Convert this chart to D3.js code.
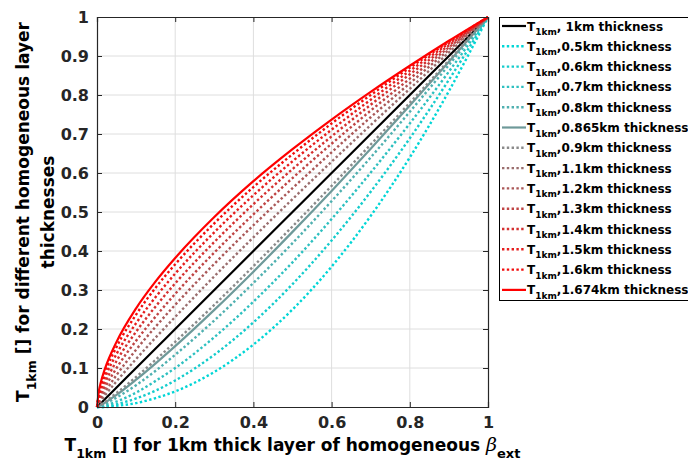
<!DOCTYPE html>
<html><head><meta charset="utf-8">
<script src="https://cdn.jsdelivr.net/npm/d3@7"></script>
<style>html,body{margin:0;padding:0;background:#fff;}svg{display:block;font-family:"DejaVu Sans",Verdana,sans-serif;font-weight:bold;}</style>
</head><body>
<svg id="c" width="688" height="461"></svg>
<script>
// x positions (T_1km for 1 km layer) at which curves were read
const xValues = [0, 0.005, 0.01, 0.02, 0.05, 0.1, 0.15, 0.2, 0.3, 0.4, 0.5, 0.6, 0.7, 0.8, 0.9, 1];
// series values (T for each layer thickness)
const y_1km    = [0, 0.005, 0.01, 0.02, 0.05, 0.1, 0.15, 0.2, 0.3, 0.4, 0.5, 0.6, 0.7, 0.8, 0.9, 1];
const y_0p5km  = [0, 0.000, 0.000, 0.000, 0.003, 0.010, 0.023, 0.040, 0.090, 0.160, 0.250, 0.360, 0.490, 0.640, 0.810, 1];
const y_0p6km  = [0, 0.000, 0.000, 0.001, 0.007, 0.022, 0.042, 0.068, 0.134, 0.217, 0.315, 0.427, 0.552, 0.689, 0.839, 1];
const y_0p7km  = [0, 0.001, 0.001, 0.004, 0.014, 0.037, 0.067, 0.100, 0.179, 0.270, 0.371, 0.482, 0.601, 0.727, 0.860, 1];
const y_0p8km  = [0, 0.001, 0.003, 0.008, 0.024, 0.056, 0.093, 0.134, 0.222, 0.318, 0.420, 0.528, 0.640, 0.757, 0.877, 1];
const y_0p865km= [0, 0.002, 0.005, 0.011, 0.031, 0.070, 0.112, 0.156, 0.249, 0.347, 0.449, 0.554, 0.662, 0.773, 0.885, 1];
const y_0p9km  = [0, 0.003, 0.006, 0.013, 0.036, 0.077, 0.121, 0.167, 0.262, 0.361, 0.463, 0.567, 0.673, 0.780, 0.889, 1];
const y_1p1km  = [0, 0.008, 0.015, 0.029, 0.066, 0.123, 0.178, 0.231, 0.335, 0.435, 0.533, 0.629, 0.723, 0.816, 0.909, 1];
const y_1p2km  = [0, 0.012, 0.022, 0.038, 0.082, 0.147, 0.206, 0.262, 0.367, 0.466, 0.561, 0.653, 0.743, 0.830, 0.916, 1];
const y_1p3km  = [0, 0.017, 0.029, 0.049, 0.100, 0.170, 0.232, 0.290, 0.396, 0.494, 0.587, 0.675, 0.760, 0.842, 0.922, 1];
const y_1p4km  = [0, 0.023, 0.037, 0.061, 0.118, 0.193, 0.258, 0.317, 0.423, 0.520, 0.610, 0.694, 0.775, 0.853, 0.927, 1];
const y_1p5km  = [0, 0.029, 0.046, 0.074, 0.136, 0.215, 0.282, 0.342, 0.448, 0.543, 0.630, 0.711, 0.788, 0.862, 0.932, 1];
const y_1p6km  = [0, 0.036, 0.056, 0.087, 0.154, 0.237, 0.306, 0.366, 0.471, 0.564, 0.648, 0.727, 0.800, 0.870, 0.936, 1];
const y_1p674km= [0, 0.042, 0.064, 0.097, 0.167, 0.253, 0.322, 0.382, 0.487, 0.579, 0.661, 0.737, 0.808, 0.875, 0.939, 1];
// legend labels (thickness part)
const thicknessLabels = [" 1km", "0.5km", "0.6km", "0.7km", "0.8km", "0.865km", "0.9km", "1.1km", "1.2km", "1.3km", "1.4km", "1.5km", "1.6km", "1.674km"];
const xTicks = [0, 0.2, 0.4, 0.6, 0.8, 1];
const yTicks = [0, 0.1, 0.2, 0.3, 0.4, 0.5, 0.6, 0.7, 0.8, 0.9, 1];

// styles (separate from data)
const colors = ["#000000", "#00d6d6", "#14cccc", "#2ec0c0", "#4fb0b0", "#6e9999", "#8a8a8a", "#9a6e6e", "#aa5858", "#bf4444", "#d43030", "#e61e1e", "#f20c0c", "#ff0000"];
const solid  = [true, false, false, false, false, true, false, false, false, false, false, false, false, true];

const seriesValues = [y_1km, y_0p5km, y_0p6km, y_0p7km, y_0p8km, y_0p865km, y_0p9km, y_1p1km, y_1p2km, y_1p3km, y_1p4km, y_1p5km, y_1p6km, y_1p674km];
const series = seriesValues.map((ys, i) => ({
  label: thicknessLabels[i],
  color: colors[i],
  solid: solid[i],
  pts: xValues.map((x, j) => [x, ys[j]])
}));

const svg = d3.select("#c");
const L = 97, R = 488, T = 17, B = 407;
const x = d3.scaleLinear().domain([0, 1]).range([L, R]);
const y = d3.scaleLinear().domain([0, 1]).range([B, T]);
const axisCol = "#262626";

// grid
const g = svg.append("g");
g.selectAll(".gx").data(xTicks.slice(1, -1)).join("line")
  .attr("x1", d => x(d)).attr("x2", d => x(d)).attr("y1", T).attr("y2", B)
  .attr("stroke", "#dedede").attr("stroke-width", 1);
g.selectAll(".gy").data(yTicks.slice(1, -1)).join("line")
  .attr("y1", d => y(d)).attr("y2", d => y(d)).attr("x1", L).attr("x2", R)
  .attr("stroke", "#dedede").attr("stroke-width", 1);

// curves
const line = d3.line().x(d => x(d[0])).y(d => y(d[1])).curve(d3.curveMonotoneX);
svg.append("g").selectAll("path").data(series).join("path")
  .attr("d", d => line(d.pts))
  .attr("fill", "none")
  .attr("stroke", d => d.color)
  .attr("stroke-width", d => d.solid ? 2.2 : 2.4)
  .attr("stroke-dasharray", d => d.solid ? null : "2.4,2.4");

// axes
const tickLen = 5;
const axB = svg.append("g").attr("transform", `translate(0,${B})`)
  .call(d3.axisBottom(x).tickValues(xTicks).tickSize(-tickLen).tickPadding(10).tickFormat(d3.format("~g")));
const axT = svg.append("g").attr("transform", `translate(0,${T})`)
  .call(d3.axisTop(x).tickValues(xTicks).tickSize(-tickLen).tickFormat(""));
const axL = svg.append("g").attr("transform", `translate(${L},0)`)
  .call(d3.axisLeft(y).tickValues(yTicks).tickSize(-tickLen).tickPadding(8).tickFormat(d3.format("~g")));
const axR = svg.append("g").attr("transform", `translate(${R},0)`)
  .call(d3.axisRight(y).tickValues(yTicks).tickSize(-tickLen).tickFormat(""));
[axB, axT, axL, axR].forEach(a => {
  a.select(".domain").attr("stroke", axisCol).attr("stroke-width", 1.2);
  a.selectAll(".tick line").attr("stroke", axisCol);
  a.selectAll("text").attr("fill", axisCol).style("font-size", "16px").style("font-weight", "bold")
    .style("font-family", '"DejaVu Sans",sans-serif');
});

// x label
const xl = svg.append("text").attr("x", (L + R) / 2 + 0).attr("y", 451).attr("text-anchor", "middle")
  .attr("fill", "#000").style("font-size", "17px");
xl.append("tspan").text("T");
xl.append("tspan").attr("dy", 7).style("font-size", "12.5px").text("1km");
xl.append("tspan").attr("dy", -7).text(" [] for 1km thick layer of homogeneous ");
xl.append("tspan").style("font-family", '"DejaVu Serif",serif').style("font-style", "italic").style("font-weight", "normal").style("font-size", "19px").text("β");
xl.append("tspan").attr("dy", 7).style("font-size", "13px").text("ext");

// y label (two lines)
const yl = svg.append("text").attr("transform", `translate(29,${(T + B) / 2}) rotate(-90)`).attr("text-anchor", "middle")
  .attr("fill", "#000").style("font-size", "17px");
yl.append("tspan").text("T");
yl.append("tspan").attr("dy", 7).style("font-size", "12.5px").text("1km");
yl.append("tspan").attr("dy", -7).text(" [] for different homogeneous layer");
svg.append("text").attr("transform", `translate(54,${(T + B) / 2}) rotate(-90)`).attr("text-anchor", "middle")
  .attr("fill", "#000").style("font-size", "17px").text("thicknesses");

// legend
const lg = svg.append("g");
lg.append("rect").attr("x", 499.5).attr("y", 17.5).attr("width", 200).attr("height", 283)
  .attr("fill", "#fff").attr("stroke", "#000").attr("stroke-width", 1);
const rowY = i => 26 + i * 20.3;
const rows = lg.selectAll("g.row").data(series).join("g").attr("class", "row");
rows.append("line").attr("x1", 502).attr("x2", 526).attr("y1", (d, i) => rowY(i)).attr("y2", (d, i) => rowY(i))
  .attr("stroke", d => d.color).attr("stroke-width", d => d.solid ? 2.2 : 2.4)
  .attr("stroke-dasharray", d => d.solid ? null : "2.4,2.4");
const lt = rows.append("text").attr("x", 527).attr("y", (d, i) => rowY(i) + 4.5)
  .attr("fill", "#000").style("font-size", "12px");
lt.append("tspan").text("T");
lt.append("tspan").attr("dy", 4.5).style("font-size", "9px").text("1km");
lt.append("tspan").attr("dy", -4.5).text(d => "," + d.label + " thickness");
</script>
</body></html>
